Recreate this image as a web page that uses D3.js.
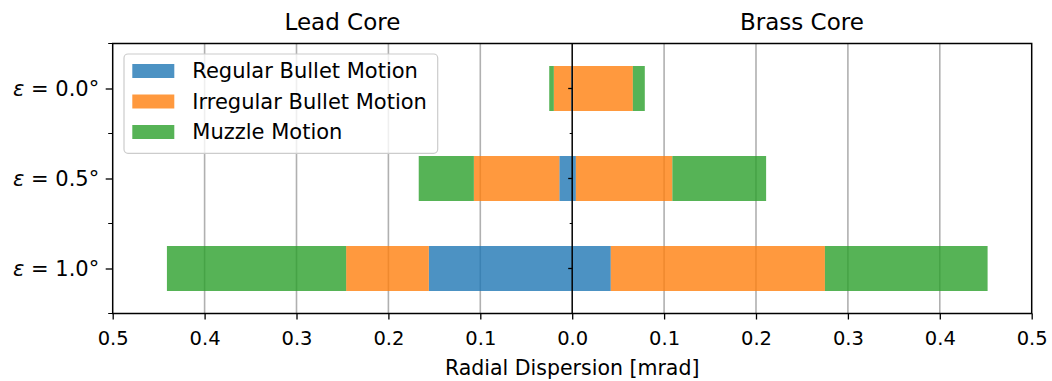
<!DOCTYPE html>
<html>
<head>
<meta charset="utf-8">
<script src="https://cdn.jsdelivr.net/npm/d3@7"></script>
<style>
  html, body { margin: 0; padding: 0; background: #fff; }
  svg { display: block; font-family: "DejaVu Sans", sans-serif; }
</style>
</head>
<body>
<svg id="chart" width="1052" height="381"></svg>
<script>
// ---- data ----
const categories = ["0.0°", "0.5°", "1.0°"];
const seriesNames = ["Regular Bullet Motion", "Irregular Bullet Motion", "Muzzle Motion"];
const seriesColors = ["#1f77b4", "#ff7f0e", "#2ca02c"];
const panelTitles = ["Lead Core", "Brass Core"];

const leadRegular   = [0.001, 0.014, 0.156];
const leadIrregular = [0.019, 0.093, 0.090];
const leadMuzzle    = [0.005, 0.060, 0.195];

const brassRegular   = [0.001, 0.004, 0.042];
const brassIrregular = [0.065, 0.105, 0.233];
const brassMuzzle    = [0.013, 0.102, 0.177];

const xTicks = [0.0, 0.1, 0.2, 0.3, 0.4, 0.5];
const xLabel = "Radial Dispersion [mrad]";

// ---- layout ----
const L = 112.7, C = 572.2, R = 1031.7, T = 43.5, B = 313.5;
const svg = d3.select("#chart");

const xLeft = d3.scaleLinear().domain([0.5, 0]).range([L, C]);
const xRight = d3.scaleLinear().domain([0, 0.5]).range([C, R]);
const y = d3.scalePoint().domain(categories).range([T, B]).padding(0.5);
const step = y.step();
const barH = step * 0.5;

const keys = ["regular", "irregular", "muzzle"];
function table(reg, irr, muz) {
  return categories.map((c, i) => ({ cat: c, regular: reg[i], irregular: irr[i], muzzle: muz[i] }));
}
const stack = d3.stack().keys(keys);
const leadStack = stack(table(leadRegular, leadIrregular, leadMuzzle));
const brassStack = stack(table(brassRegular, brassIrregular, brassMuzzle));

// ---- grid ----
const grid = svg.append("g");
[xLeft, xRight].forEach(sc => {
  grid.selectAll(null).data(xTicks.filter(v => v > 0 && v < 0.5)).enter().append("line")
    .attr("x1", d => sc(d)).attr("x2", d => sc(d))
    .attr("y1", T).attr("y2", B)
    .attr("stroke", "#b0b0b0").attr("stroke-width", 1.6);
});

// ---- bars ----
function drawBars(st, sc) {
  st.forEach((layer, k) => {
    svg.append("g").selectAll("rect").data(layer).enter().append("rect")
      .attr("x", d => Math.min(sc(d[0]), sc(d[1])))
      .attr("width", d => Math.abs(sc(d[1]) - sc(d[0])))
      .attr("y", d => y(d.data.cat) - barH / 2)
      .attr("height", barH)
      .attr("fill", seriesColors[k])
      .attr("fill-opacity", 0.8);
  });
}
drawBars(leadStack, xLeft);
drawBars(brassStack, xRight);

// ---- center line ----
svg.append("line").attr("x1", C).attr("x2", C).attr("y1", T).attr("y2", B)
  .attr("stroke", "#000").attr("stroke-width", 1.5);

// center ticks (pointing left)
const minorPos = d3.range(categories.length + 1).map(i => T + i * step);
svg.append("g").selectAll("line").data(categories).enter().append("line")
  .attr("x1", C - 4).attr("x2", C).attr("y1", d => y(d)).attr("y2", d => y(d))
  .attr("stroke", "#000").attr("stroke-width", 1.3);
svg.append("g").selectAll("line").data(minorPos).enter().append("line")
  .attr("x1", C - 2.5).attr("x2", C).attr("y1", d => d).attr("y2", d => d)
  .attr("stroke", "#000").attr("stroke-width", 1);

// ---- frame ----
svg.append("rect").attr("x", L).attr("y", T).attr("width", R - L).attr("height", B - T)
  .attr("fill", "none").attr("stroke", "#000").attr("stroke-width", 1.5);

// ---- x axis ----
function styleAxis(g) {
  g.select(".domain").remove();
  g.selectAll(".tick line").attr("stroke", "#000").attr("stroke-width", 1.3);
  g.selectAll(".tick text").attr("font-size", "19.5px").attr("fill", "#000")
    .attr("font-family", "DejaVu Sans");
}
svg.append("g").attr("transform", `translate(0,${B})`)
  .call(d3.axisBottom(xLeft).tickValues(xTicks).tickFormat(d3.format(".1f")).tickSize(6).tickPadding(12))
  .call(styleAxis);
svg.append("g").attr("transform", `translate(0,${B})`)
  .call(d3.axisBottom(xRight).tickValues(xTicks.filter(v => v > 0)).tickFormat(d3.format(".1f")).tickSize(6).tickPadding(12))
  .call(styleAxis);

svg.append("text").attr("x", C).attr("y", 374.5).attr("text-anchor", "middle")
  .attr("font-size", "20.5px").attr("fill", "#000").text(xLabel);

// ---- y axis ----
const yAxis = svg.append("g").attr("transform", `translate(${L},0)`)
  .call(d3.axisLeft(y).tickSize(7).tickPadding(6.5).tickFormat(""));
yAxis.select(".domain").remove();
yAxis.selectAll(".tick line").attr("stroke", "#000").attr("stroke-width", 1.3);
svg.append("g").selectAll("line").data(minorPos).enter().append("line")
  .attr("x1", L - 4.5).attr("x2", L).attr("y1", d => d).attr("y2", d => d)
  .attr("stroke", "#000").attr("stroke-width", 1);

const yl = svg.append("g").selectAll("text").data(categories).enter().append("text")
  .attr("x", L - 13.5).attr("y", d => y(d)).attr("dy", "0.36em")
  .attr("text-anchor", "end").attr("font-size", "21px").attr("fill", "#000");
yl.append("tspan").attr("font-style", "italic").text("ε");
yl.append("tspan").text(d => " = " + d);

// ---- titles ----
svg.selectAll(".ptitle").data(panelTitles).enter().append("text")
  .attr("class", "ptitle")
  .attr("x", (d, i) => i === 0 ? (L + C) / 2 : (C + R) / 2)
  .attr("y", 29.5).attr("text-anchor", "middle")
  .attr("font-size", "23px").attr("fill", "#000").text(d => d);

// ---- legend ----
const lg = svg.append("g");
lg.append("rect").attr("x", 124).attr("y", 54).attr("width", 313.7).attr("height", 99.3)
  .attr("rx", 4).attr("fill", "#fff").attr("fill-opacity", 0.8)
  .attr("stroke", "#cccccc").attr("stroke-width", 1.2);
const rows = lg.selectAll("g.row").data(seriesNames).enter().append("g")
  .attr("class", "row")
  .attr("transform", (d, i) => `translate(0,${i * 30.5})`);
rows.append("rect").attr("x", 132.3).attr("y", 64).attr("width", 42).attr("height", 14)
  .attr("fill", (d, i) => seriesColors[i]).attr("fill-opacity", 0.8);
rows.append("text").attr("x", 192.3).attr("y", 78.3)
  .attr("font-size", "21px").attr("fill", "#000").text(d => d);
</script>
</body>
</html>
